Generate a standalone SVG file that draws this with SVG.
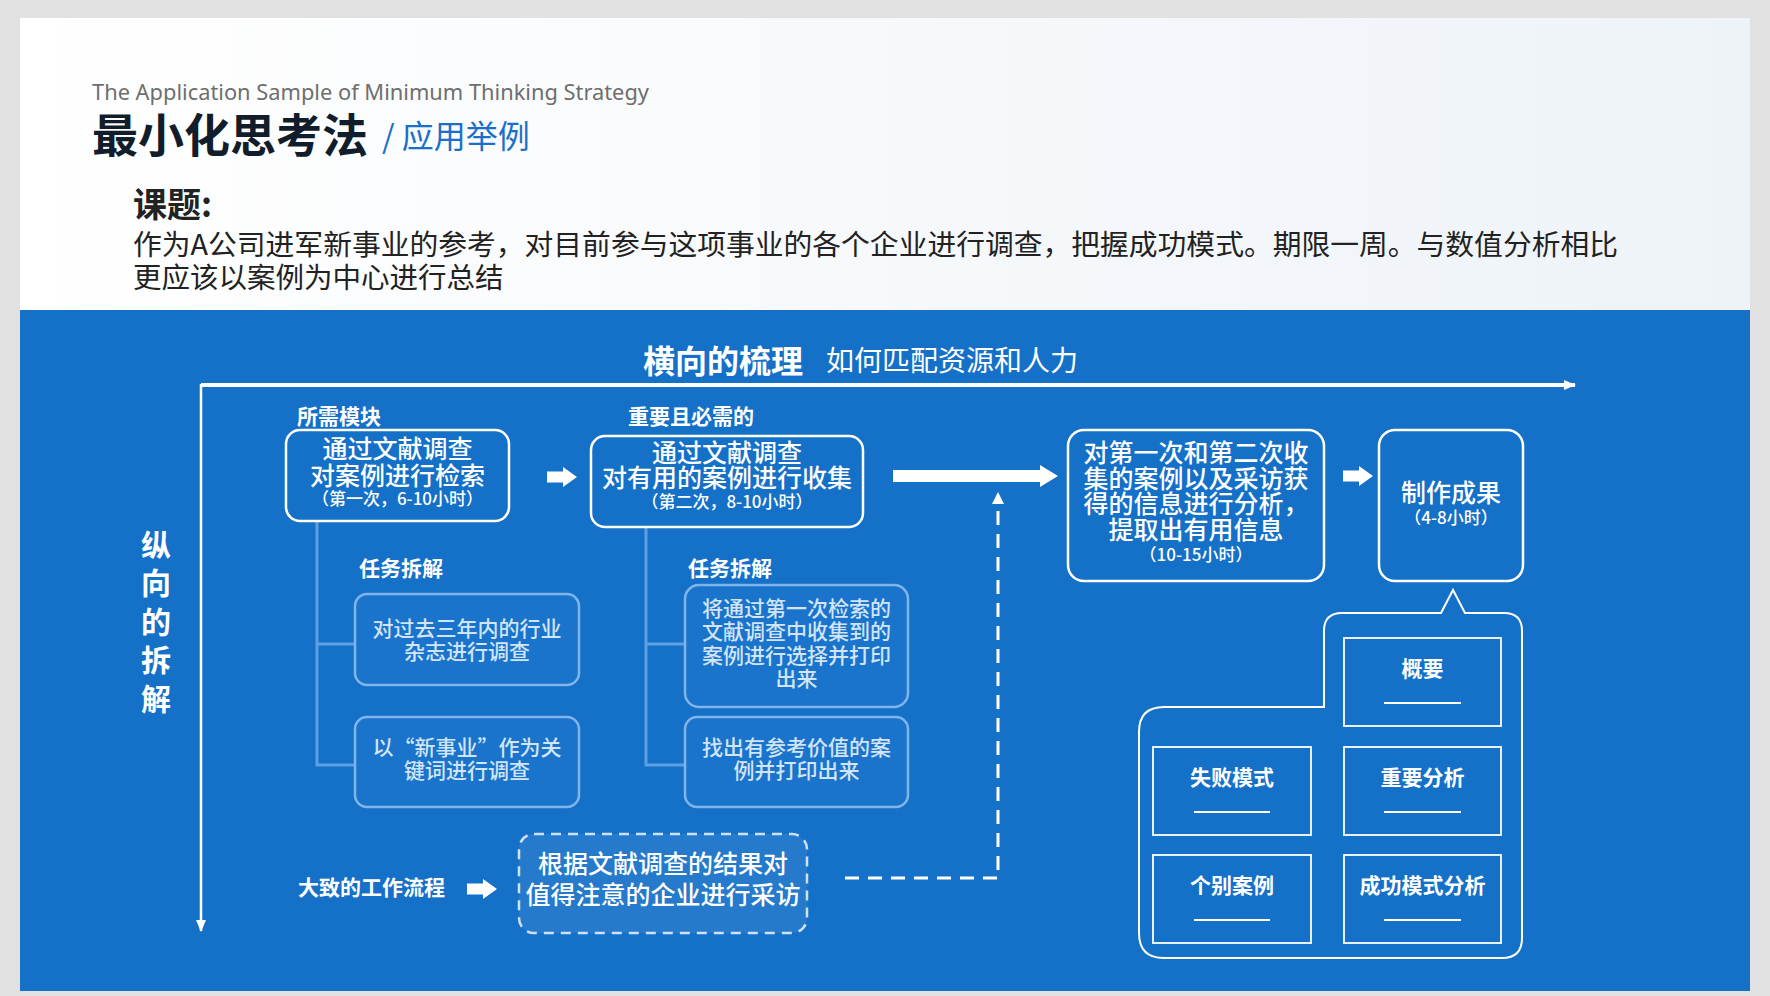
<svg xmlns="http://www.w3.org/2000/svg" width="1770" height="996" viewBox="0 0 1770 996">
<defs>
<linearGradient id="hdr" x1="0" y1="0" x2="1" y2="0">
<stop offset="0" stop-color="#ffffff"/>
<stop offset="1" stop-color="#eef3f8"/>
</linearGradient>
<marker id="ah" viewBox="0 0 12 10" refX="11" refY="5" markerWidth="12" markerHeight="10" markerUnits="userSpaceOnUse" orient="auto">
<path d="M0,0 L12,5 L0,10 Z" fill="#ffffff"/>
</marker>
<marker id="ahs" viewBox="0 0 12 10" refX="11" refY="5" markerWidth="12" markerHeight="10" markerUnits="userSpaceOnUse" orient="auto">
<path d="M0,0 L12,5 L0,10 Z" fill="#ffffff"/>
</marker>
<path id="blk" d="M0,-5.5 H16 V-10 L30,0 L16,10 V5.5 H0 Z" fill="#ffffff"/>
</defs>
<style>
.cjk{font-family:"Noto Sans CJK SC","Noto Sans",sans-serif}
.w{fill:#ffffff}
.bx{fill:none;stroke:#ffffff;stroke-width:2.5}
.tk{fill:#1a74cb;stroke:#80b5ec;stroke-width:2.5}
.tt{fill:#d2e4f7;font-size:21px;font-weight:500}
.mt{fill:#ffffff;font-size:25px;font-weight:500}
.st{fill:#ffffff;font-size:17px;font-weight:500}
.lb{fill:#ffffff;font-size:21px;font-weight:bold}
.cb{fill:none;stroke:#ffffff;stroke-width:1.8}
.ul{stroke:#ffffff;stroke-width:1.8}
.tree{fill:none;stroke:#5fa0e3;stroke-width:3}
</style>
<rect x="0" y="0" width="1770" height="996" fill="#e1e1e1"/>
<rect x="20" y="18" width="1730" height="292" fill="url(#hdr)"/>
<rect x="20" y="310" width="1730" height="681" fill="#1570c7"/>

<g id="header" class="cjk">
<text x="92" y="100" font-family="'Noto Sans','Open Sans',sans-serif" font-size="22" fill="#6e6e6e" textLength="557" lengthAdjust="spacingAndGlyphs">The Application Sample  of  Minimum Thinking Strategy</text>
<text x="92" y="152" font-size="46" font-weight="bold" fill="#111d2b">最小化思考法</text>
<text x="382" y="148" font-size="32" fill="#1a6fc9">/ 应用举例</text>
<text x="133" y="217" font-size="34" font-weight="bold" fill="#222222">课题:</text>
<text x="133" y="255" font-size="28.5" fill="#222222" textLength="1485" lengthAdjust="spacingAndGlyphs">作为A公司进军新事业的参考，对目前参与这项事业的各个企业进行调查，把握成功模式。期限一周。与数值分析相比</text>
<text x="133" y="288" font-size="28.5" fill="#222222">更应该以案例为中心进行总结</text>
</g>

<g id="axes">
<text class="cjk w" x="643" y="373" font-size="32" font-weight="bold">横向的梳理</text>
<text class="cjk w" x="826" y="371" font-size="28">如何匹配资源和人力</text>
<line x1="201" y1="385" x2="1575" y2="385" stroke="#ffffff" stroke-width="4" marker-end="url(#ah)"/>
<line x1="201" y1="384" x2="201" y2="931" stroke="#ffffff" stroke-width="2.5" marker-end="url(#ahs)"/>
<g class="cjk w" font-size="30" font-weight="bold" text-anchor="middle">
<text x="156" y="556">纵</text>
<text x="156" y="594">向</text>
<text x="156" y="633">的</text>
<text x="156" y="671">拆</text>
<text x="156" y="710">解</text>
</g>
</g>

<g id="connectors">
<path class="tree" d="M317,522 V765 H356 M317,644 H356"/>
<path class="tree" d="M646,527 V765 H685 M646,644 H685"/>
<use href="#blk" x="547" y="477"/>
<use href="#blk" x="1343" y="476"/>
<use href="#blk" x="467" y="889"/>
<path d="M893,470 H1040 V465 L1058,476 L1040,487 V482 H893 Z" fill="#ffffff"/>
<polyline points="845,878 998,878 998,500" fill="none" stroke="#ffffff" stroke-width="3" stroke-dasharray="14 9"/>
<path d="M992,504 L998,492 L1004,504 Z" fill="#ffffff"/>
</g>

<g id="module1" class="cjk">
<text class="lb" x="297" y="424">所需模块</text>
<rect class="bx" x="286" y="430" width="223" height="91" rx="14"/>
<text class="mt" x="397.5" y="458" text-anchor="middle">通过文献调查</text>
<text class="mt" x="397.5" y="485" text-anchor="middle">对案例进行检索</text>
<text class="st" x="397.5" y="505" text-anchor="middle">（第一次，6-10小时）</text>
</g>

<g id="module2" class="cjk">
<text class="lb" x="628" y="424">重要且必需的</text>
<rect class="bx" x="591" y="436" width="272" height="91" rx="14"/>
<text class="mt" x="727" y="462" text-anchor="middle">通过文献调查</text>
<text class="mt" x="727" y="487" text-anchor="middle">对有用的案例进行收集</text>
<text class="st" x="727" y="508" text-anchor="middle">（第二次，8-10小时）</text>
</g>

<g id="module3" class="cjk">
<rect class="bx" x="1068" y="430" width="256" height="151" rx="16"/>
<text class="mt" x="1196" y="462" text-anchor="middle">对第一次和第二次收</text>
<text class="mt" x="1196" y="488" text-anchor="middle">集的案例以及采访获</text>
<text class="mt" x="1196" y="513" text-anchor="middle">得的信息进行分析，</text>
<text class="mt" x="1196" y="539" text-anchor="middle">提取出有用信息</text>
<text class="st" x="1196" y="561" text-anchor="middle">（10-15小时）</text>
</g>

<g id="module4" class="cjk">
<rect class="bx" x="1379" y="430" width="144" height="151" rx="16"/>
<text class="mt" x="1451" y="502" text-anchor="middle">制作成果</text>
<text class="st" x="1451" y="524" text-anchor="middle">（4-8小时）</text>
</g>

<g id="tasks1" class="cjk">
<text class="lb" x="359" y="576">任务拆解</text>
<rect class="tk" x="355" y="594" width="224" height="91" rx="12"/>
<text class="tt" x="467" y="636" text-anchor="middle">对过去三年内的行业</text>
<text class="tt" x="467" y="659" text-anchor="middle">杂志进行调查</text>
<rect class="tk" x="355" y="717" width="224" height="90" rx="12"/>
<text class="tt" x="467" y="755" text-anchor="middle">以“新事业”作为关</text>
<text class="tt" x="467" y="778" text-anchor="middle">键词进行调查</text>
</g>

<g id="tasks2" class="cjk">
<text class="lb" x="688" y="576">任务拆解</text>
<rect class="tk" x="685" y="585" width="223" height="122" rx="14"/>
<text class="tt" x="796.5" y="616" text-anchor="middle">将通过第一次检索的</text>
<text class="tt" x="796.5" y="639" text-anchor="middle">文献调查中收集到的</text>
<text class="tt" x="796.5" y="663" text-anchor="middle">案例进行选择并打印</text>
<text class="tt" x="796.5" y="686" text-anchor="middle">出来</text>
<rect class="tk" x="685" y="717" width="223" height="90" rx="12"/>
<text class="tt" x="796.5" y="755" text-anchor="middle">找出有参考价值的案</text>
<text class="tt" x="796.5" y="778" text-anchor="middle">例并打印出来</text>
</g>

<g id="workflow" class="cjk">
<text class="lb" x="298" y="895">大致的工作流程</text>
<rect x="519" y="834" width="288" height="99" rx="15" fill="#ffffff" fill-opacity="0.07" stroke="#cde2f7" stroke-width="2.5" stroke-dasharray="10 7"/>
<text class="mt" x="663" y="873" text-anchor="middle">根据文献调查的结果对</text>
<text class="mt" x="663" y="904" text-anchor="middle">值得注意的企业进行采访</text>
</g>

<g id="output-detail" class="cjk">
<path d="M1441,613 L1453,590 L1465,613 H1504 Q1522,613 1522,631 V938 Q1522,958 1502,958 H1164 Q1139,958 1139,933 V732 Q1139,707 1164,707 H1324 V631 Q1324,613 1342,613 Z" fill="none" stroke="#ffffff" stroke-width="2"/>
<rect class="cb" x="1344" y="638" width="157" height="88"/>
<text class="lb" x="1422.5" y="676" text-anchor="middle">概要</text>
<line class="ul" x1="1384" y1="703" x2="1461" y2="703"/>
<rect class="cb" x="1153" y="747" width="158" height="88"/>
<text class="lb" x="1232" y="785" text-anchor="middle">失败模式</text>
<line class="ul" x1="1194" y1="812" x2="1270" y2="812"/>
<rect class="cb" x="1344" y="747" width="157" height="88"/>
<text class="lb" x="1422.5" y="785" text-anchor="middle">重要分析</text>
<line class="ul" x1="1384" y1="812" x2="1461" y2="812"/>
<rect class="cb" x="1153" y="855" width="158" height="88"/>
<text class="lb" x="1232" y="893" text-anchor="middle">个别案例</text>
<line class="ul" x1="1194" y1="920" x2="1270" y2="920"/>
<rect class="cb" x="1344" y="855" width="157" height="88"/>
<text class="lb" x="1422.5" y="893" text-anchor="middle">成功模式分析</text>
<line class="ul" x1="1384" y1="920" x2="1461" y2="920"/>
</g>
</svg>
